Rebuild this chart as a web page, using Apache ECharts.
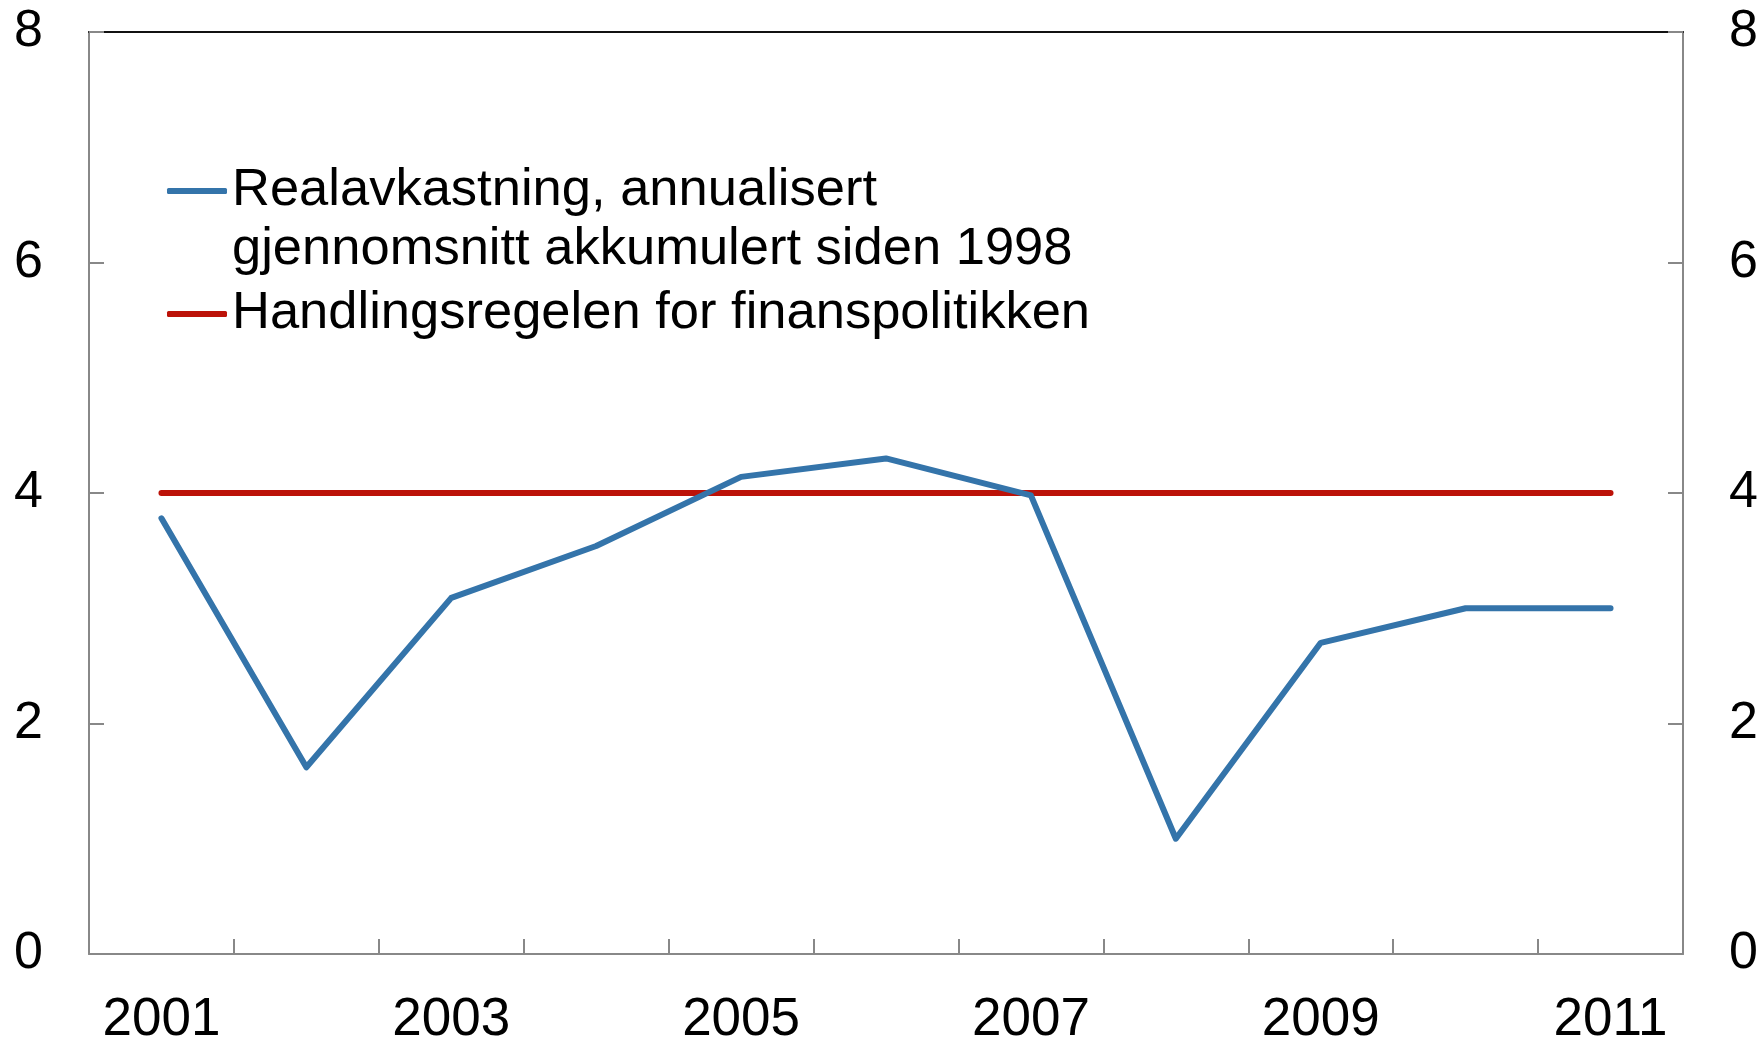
<!DOCTYPE html>
<html>
<head>
<meta charset="utf-8">
<script src="https://cdn.jsdelivr.net/npm/echarts@6/dist/echarts.min.js"></script>
<style>
  html, body { margin: 0; padding: 0; background: #fff; }
  #chart { width: 1762px; height: 1041px; }
</style>
</head>
<body>
<div id="chart"></div>
<script>
// data
const years = ['2001', '2002', '2003', '2004', '2005', '2006', '2007', '2008', '2009', '2010', '2011'];
const realReturn = [3.78, 1.62, 3.09, 3.54, 4.14, 4.3, 3.98, 1.0, 2.7, 3.0, 3.0];
const fiscalRule = [4, 4, 4, 4, 4, 4, 4, 4, 4, 4, 4];
const nameReturn = 'Realavkastning, annualisert\ngjennomsnitt akkumulert siden 1998';
const nameRule = 'Handlingsregelen for finanspolitikken';

const font = '"Liberation Sans", Arial, sans-serif';
const blue = '#3474aa';
const red = '#bc1208';
const axisGray = '#888888';
const lineH = 59;

const chart = echarts.init(document.getElementById('chart'));

const yAxisBase = {
  type: 'value',
  min: 0,
  max: 8,
  interval: 2,
  axisLine: { show: true, lineStyle: { color: axisGray, width: 2 } },
  axisTick: { show: true, inside: true, length: 15, lineStyle: { color: axisGray, width: 2 } },
  axisLabel: { color: '#000', fontSize: 52, fontFamily: font, margin: 46 },
  splitLine: { show: false }
};

chart.setOption({
  animation: false,
  grid: { left: 89, right: 79, top: 32, bottom: 87, containLabel: false, outerBoundsMode: 'none' },
  legend: [
    {
      data: [nameReturn],
      left: 162,
      top: 186 - lineH * 1.5,
      icon: 'roundRect',
      itemWidth: 60,
      itemHeight: 6,
      // empty first line keeps the icon level with the first text line
      formatter: function (name) { return ' \n' + name; },
      textStyle: { color: '#000', fontSize: 52.5, fontFamily: font, lineHeight: lineH }
    },
    {
      data: [nameRule],
      left: 162,
      top: 309 - lineH / 2,
      icon: 'roundRect',
      itemWidth: 60,
      itemHeight: 6,
      textStyle: { color: '#000', fontSize: 52.5, fontFamily: font, lineHeight: lineH }
    }
  ],
  xAxis: [
    {
      type: 'category',
      data: years,
      boundaryGap: true,
      axisLine: { show: true, onZero: false, lineStyle: { color: axisGray, width: 2 } },
      axisTick: { show: true, inside: true, length: 15, interval: 0, lineStyle: { color: axisGray, width: 2 } },
      axisLabel: { color: '#000', fontSize: 53, fontFamily: font, interval: 1, margin: 40 },
      splitLine: { show: false }
    },
    {
      type: 'category',
      data: years,
      position: 'top',
      boundaryGap: true,
      axisLine: { show: true, onZero: false, lineStyle: { color: '#111', width: 2 } },
      axisTick: { show: false },
      axisLabel: { show: false },
      splitLine: { show: false }
    }
  ],
  yAxis: [
    Object.assign({}, yAxisBase, { position: 'left' }),
    Object.assign({}, yAxisBase, { position: 'right' })
  ],
  series: [
    {
      name: nameReturn,
      type: 'line',
      data: realReturn,
      symbol: 'none',
      z: 3,
      lineStyle: { color: blue, width: 6, cap: 'round', join: 'round' },
      itemStyle: { color: blue }
    },
    {
      name: nameRule,
      type: 'line',
      data: fiscalRule,
      symbol: 'none',
      z: 2,
      lineStyle: { color: red, width: 6, cap: 'round' },
      itemStyle: { color: red }
    }
  ]
});
</script>
</body>
</html>
